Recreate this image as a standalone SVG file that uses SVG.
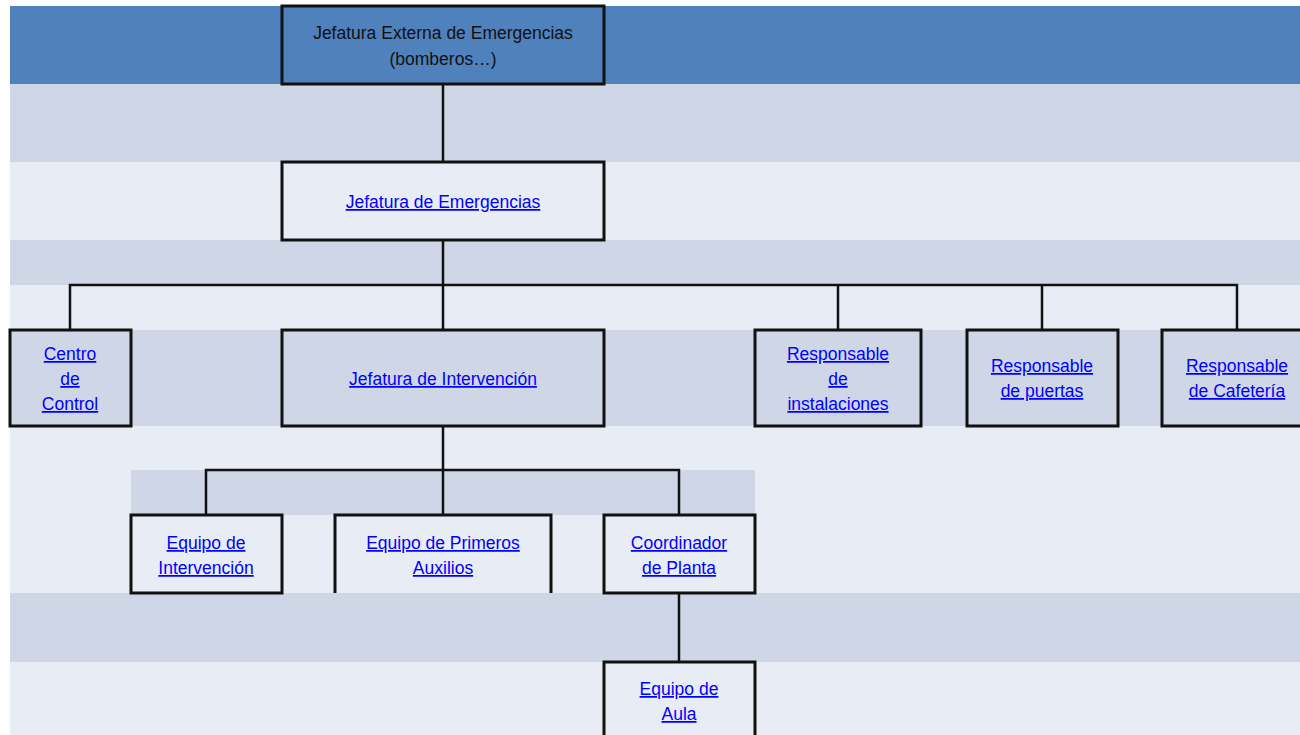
<svg xmlns="http://www.w3.org/2000/svg" width="1300" height="735" viewBox="0 0 1300 735">
<style>
.dark{fill:#CFD7E6}
.light{fill:#E8ECF4}
.box{fill:none;stroke:#111;stroke-width:3}
.con{fill:none;stroke:#111;stroke-width:2.5}
text{font-family:"Liberation Sans",Arial,sans-serif;font-size:17.5px;text-anchor:middle}
.lnk{fill:#0000FF;text-decoration:underline}
.plain{fill:#111}
</style>
<rect width="1300" height="735" fill="#ffffff"/>
<g id="bands">
<rect x="10" y="6" width="1290" height="78" fill="#4F81BD"/>
<rect class="dark" x="10" y="84" width="1290" height="78"/>
<rect class="light" x="10" y="162" width="1290" height="78"/>
<rect class="dark" x="10" y="240" width="1290" height="45"/>
<rect class="light" x="10" y="285" width="1290" height="45"/>
<rect class="dark" x="10" y="330" width="1290" height="96"/>
<rect class="light" x="10" y="426" width="1290" height="167"/>
<rect class="dark" x="131" y="470" width="624" height="45"/>
<rect class="dark" x="10" y="593" width="1290" height="69"/>
<rect class="light" x="10" y="662" width="1290" height="73"/>
</g>
<g id="connectors">
<path class="con" d="M443 84V162"/>
<path class="con" d="M443 240V330"/>
<path class="con" d="M70 330V285H1237V330"/>
<path class="con" d="M838 285V330M1042 285V330"/>
<path class="con" d="M443 426V515"/>
<path class="con" d="M206 515V470H679V515"/>
<path class="con" d="M679 593V662"/>
</g>
<g id="n-externa">
<rect class="box" x="282" y="6" width="322" height="78"/>
<text class="plain" x="443" y="39">Jefatura Externa de Emergencias</text>
<text class="plain" x="443" y="65">(bomberos…)</text>
</g>
<g id="n-emergencias">
<rect class="box" x="282" y="162" width="322" height="78"/>
<text class="lnk" x="443" y="208">Jefatura de Emergencias</text>
</g>
<g id="n-centro">
<rect class="box" x="10" y="330" width="121" height="96"/>
<text class="lnk" x="70" y="360">Centro</text>
<text class="lnk" x="70" y="385">de</text>
<text class="lnk" x="70" y="410">Control</text>
</g>
<g id="n-intervencion">
<rect class="box" x="282" y="330" width="322" height="96"/>
<text class="lnk" x="443" y="385">Jefatura de Intervención</text>
</g>
<g id="n-instalaciones">
<rect class="box" x="755" y="330" width="166" height="96"/>
<text class="lnk" x="838" y="360">Responsable</text>
<text class="lnk" x="838" y="385">de</text>
<text class="lnk" x="838" y="410">instalaciones</text>
</g>
<g id="n-puertas">
<rect class="box" x="967" y="330" width="151" height="96"/>
<text class="lnk" x="1042" y="372">Responsable</text>
<text class="lnk" x="1042" y="397">de puertas</text>
</g>
<g id="n-cafeteria">
<rect class="box" x="1162" y="330" width="151" height="96"/>
<text class="lnk" x="1237" y="372">Responsable</text>
<text class="lnk" x="1237" y="397">de Cafetería</text>
</g>
<g id="n-equipo-intervencion">
<rect class="box" x="131" y="515" width="151" height="78"/>
<text class="lnk" x="206" y="549">Equipo de</text>
<text class="lnk" x="206" y="574">Intervención</text>
</g>
<g id="n-primeros-auxilios">
<path class="box" d="M335 593V515H551V593"/>
<text class="lnk" x="443" y="549">Equipo de Primeros</text>
<text class="lnk" x="443" y="574">Auxilios</text>
</g>
<g id="n-coordinador">
<rect class="box" x="604" y="515" width="151" height="78"/>
<text class="lnk" x="679" y="549">Coordinador</text>
<text class="lnk" x="679" y="574">de Planta</text>
</g>
<g id="n-aula">
<rect class="box" x="604" y="662" width="151" height="90"/>
<text class="lnk" x="679" y="695">Equipo de</text>
<text class="lnk" x="679" y="720">Aula</text>
</g>
</svg>
